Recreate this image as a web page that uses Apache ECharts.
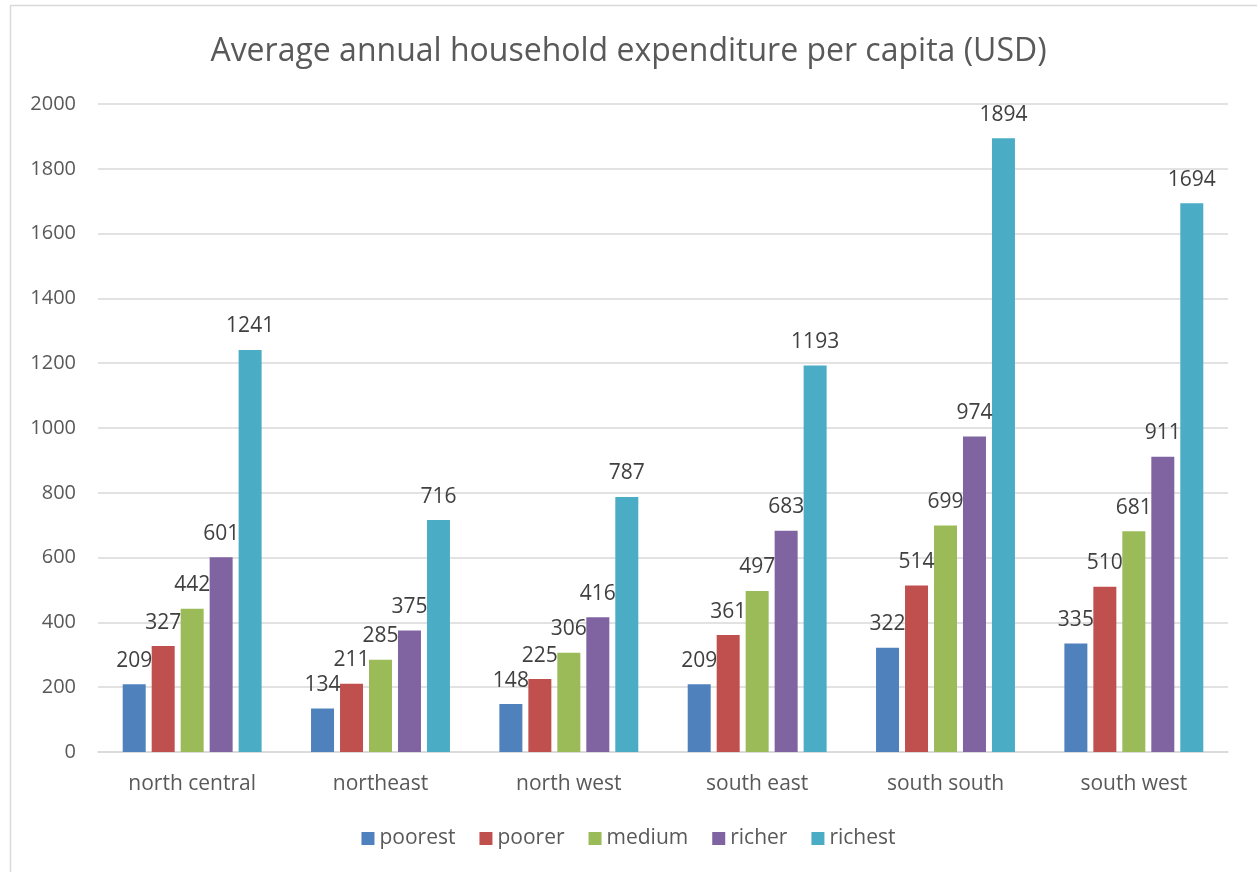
<!DOCTYPE html>
<html>
<head>
<meta charset="utf-8">
<script src="https://cdn.jsdelivr.net/npm/echarts@6/dist/echarts.min.js"></script>
<style>
  html, body { margin: 0; padding: 0; background: #fff; }
  #chart { width: 1257px; height: 872px; }
</style>
</head>
<body>
<div id="chart"></div>
<script>
// Regions and expenditure by wealth quintile (USD per capita per year)
const regions = ['north central', 'northeast', 'north west', 'south east', 'south south', 'south west'];
const poorest = [209, 134, 148, 209, 322, 335];
const poorer  = [327, 211, 225, 361, 514, 510];
const medium  = [442, 285, 306, 497, 699, 681];
const richer  = [601, 375, 416, 683, 974, 911];
const richest = [1241, 716, 787, 1193, 1894, 1694];

const seriesNames = ['poorest', 'poorer', 'medium', 'richer', 'richest'];
const seriesData = [poorest, poorer, medium, richer, richest];
const colors = ['#4F81BD', '#C0504D', '#9BBB59', '#8064A2', '#4BACC6'];

const fontFamily = "'Open Sans', 'Noto Sans', sans-serif";

const chart = echarts.init(document.getElementById('chart'));

chart.setOption({
  animation: false,
  color: colors,
  textStyle: { fontFamily: fontFamily },
  title: {
    text: 'Average annual household expenditure per capita (USD)',
    left: 'center',
    top: 31,
    textStyle: { fontSize: 32, fontWeight: 'normal', color: '#595959', fontFamily: fontFamily }
  },
  graphic: [{
    type: 'rect',
    shape: { x: 10.5, y: 5.5, width: 1260, height: 880 },
    style: { fill: 'none', stroke: '#d9d9d9', lineWidth: 1.5 },
    silent: true
  }],
  legend: {
    bottom: 18,
    left: 'center',
    itemWidth: 13,
    itemHeight: 13,
    itemGap: 24,
    icon: 'rect',
    textStyle: { fontSize: 21, color: '#595959' },
    data: seriesNames
  },
  grid: { left: 98, right: 29, top: 104, bottom: 120 },
  xAxis: {
    type: 'category',
    data: regions,
    axisLine: { lineStyle: { color: '#d9d9d9', width: 1.5 } },
    axisTick: { show: false },
    axisLabel: { fontSize: 21, color: '#595959', margin: 22 }
  },
  yAxis: {
    type: 'value',
    min: 0,
    max: 2000,
    interval: 200,
    axisLine: { show: false },
    axisTick: { show: false },
    splitLine: { lineStyle: { color: '#d9d9d9', width: 1.5 } },
    axisLabel: { fontSize: 20, color: '#595959', margin: 22, formatter: v => String(v) }
  },
  series: seriesNames.map((name, i) => ({
    name: name,
    type: 'bar',
    data: seriesData[i],
    barWidth: 23,
    barGap: '26%',
    label: {
      show: true,
      position: 'top',
      distance: 13,
      fontSize: 21,
      color: '#404040'
    }
  }))
});
</script>
</body>
</html>
